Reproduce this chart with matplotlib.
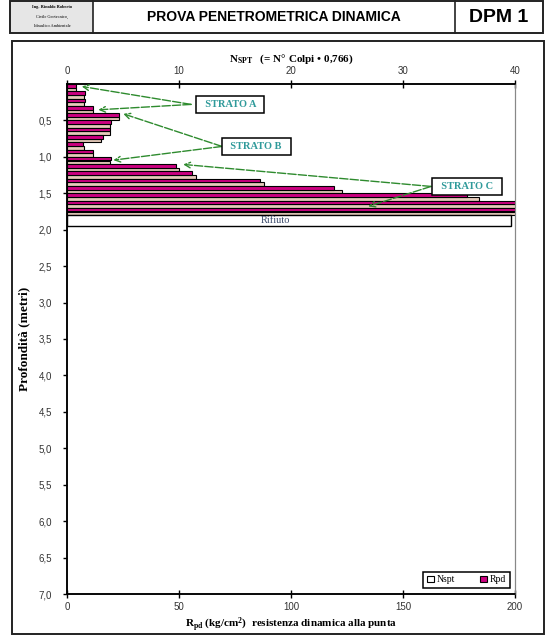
import numpy as np
import matplotlib.pyplot as plt
from matplotlib.patches import Rectangle, Patch

plt.rcParams['font.family'] = ['Liberation Sans', 'DejaVu Sans']
plt.rcParams['mathtext.fontset'] = 'custom'
plt.rcParams['mathtext.rm'] = 'Liberation Serif:bold'
plt.rcParams['mathtext.bf'] = 'Liberation Serif:bold'
plt.rcParams['mathtext.it'] = 'Liberation Serif:italic:bold'

# depth of each 10 cm step (m)
depth = [0.0, 0.1, 0.2, 0.3, 0.4, 0.5, 0.6, 0.7, 0.8, 0.9,
         1.0, 1.1, 1.2, 1.3, 1.4, 1.5, 1.6, 1.7]
# N_SPT (= N colpi * 0,766)
nspt = [0.77, 1.53, 1.53, 2.30, 4.60, 3.83, 3.83, 3.06, 1.53, 2.30,
        3.83, 9.96, 11.49, 17.62, 24.51, 36.77, 45.96, 45.96]
# Rpd (kg/cm2)
rpd = [3.9, 8.2, 7.9, 11.7, 23.4, 19.6, 19.4, 16.2, 7.3, 11.6,
       19.5, 48.5, 55.7, 86.0, 119.0, 178.4, 221.0, 219.0]
# refusal layer
rifiuto_top = 1.8
rifiuto_bot = 1.95
rifiuto_len = 198

strati = ['STRATO A', 'STRATO B', 'STRATO C']

c_rpd = '#cc0080'
c_n = '#e6cbbb'
c_green = '#2e8b2e'
c_txt = '#2f9a9a'
serif = ['Liberation Serif', 'DejaVu Serif']

fig = plt.figure(figsize=(5.56, 6.37), dpi=100)

# page frame and header (pixel coords)
bg = fig.add_axes([0, 0, 1, 1])
bg.set_xlim(0, 556)
bg.set_ylim(637, 0)
bg.axis('off')
bg.add_patch(Rectangle((10, 1), 533, 32, fill=False, lw=1.4, ec='#222222'))
bg.add_patch(Rectangle((11, 2), 82, 30, fc='#e6e6e6', ec='none'))
bg.plot([93, 93], [1, 33], color='#222222', lw=1.2)
bg.plot([455, 455], [1, 33], color='#222222', lw=1.2)
bg.text(52, 7, 'Ing. Rinaldo Roberto', fontsize=3.2, ha='center', va='center',
        family=serif, fontweight='bold')
bg.text(52, 17, 'Civile Geotecnico,', fontsize=3.2, ha='center', va='center', family=serif)
bg.text(52, 26, 'Idraulico Ambientale', fontsize=3.2, ha='center', va='center', family=serif)
bg.text(274, 17, 'PROVA PENETROMETRICA DINAMICA', fontsize=10, fontweight='bold',
        ha='center', va='center')
bg.text(499, 17, 'DPM 1', fontsize=14, fontweight='bold', ha='center', va='center')
bg.add_patch(Rectangle((12, 41), 532, 593, fill=False, lw=1.4, ec='#222222'))

# main chart
ax = fig.add_axes([67/556, 1-594/637, 448/556, 510/637])
ax2 = ax.twiny()
ax.set_zorder(ax2.get_zorder() + 1)
ax.patch.set_visible(False)

d = np.array(depth)
ax.barh(d + 0.025, rpd, height=0.05, color=c_rpd, edgecolor='black', lw=0.8)
ax2.barh(d + 0.075, nspt, height=0.05, color=c_n, edgecolor='black', lw=0.8)
ax.barh((rifiuto_top + rifiuto_bot) / 2, rifiuto_len, height=rifiuto_bot - rifiuto_top,
        color='white', edgecolor='black', lw=1)
ax.text(rifiuto_len * 0.47, (rifiuto_top + rifiuto_bot) / 2, 'Rifiuto', fontsize=7.5,
        family=serif, color='#3b4a6b', ha='center', va='center')

ax.set_xlim(0, 200)
ax2.set_xlim(0, 40)
ax.set_ylim(7, 0)

ax.set_xticks([0, 50, 100, 150, 200])
ax2.set_xticks([0, 10, 20, 30, 40])
yt = np.arange(0.5, 7.01, 0.5)
ax.set_yticks(yt)
ax.set_yticklabels([f'{v:.1f}'.replace('.', ',') for v in yt])
ax.tick_params(axis='x', direction='inout', length=6, width=1, labelsize=7,
               labelcolor='#333333', pad=3)
ax2.tick_params(axis='x', direction='inout', length=6, width=1, labelsize=7,
                labelcolor='#333333', pad=3)
ax.tick_params(axis='y', direction='out', length=3, width=1, labelsize=7,
               labelcolor='#333333', pad=8)
for a in (ax, ax2):
    a.spines['right'].set_color('#888888')
    a.spines['right'].set_linewidth(0.8)
    for s in ('top', 'bottom', 'left'):
        a.spines[s].set_linewidth(1.1)

ax.set_xlabel(r'R$\mathrm{_{pd}}$ (kg/cm$\mathrm{^{2}}$)  resistenza dinamica alla punta',
              fontsize=8, family=serif, fontweight='bold', labelpad=2)
ax2.set_xlabel(r'N$\mathrm{_{SPT}}$   (= N° Colpi • 0,766)', fontsize=8, family=serif,
               fontweight='bold', labelpad=3)
ax.set_ylabel('Profondità (metri)', fontsize=9.5, family=serif, fontweight='bold',
              labelpad=6)

# strata annotations (Rpd / depth coordinates)
boxes = [(72.8, 0.28), (84.4, 0.857), (178.6, 1.406)]
starts = [(55.4, 0.28), (69.2, 0.857), (162.5, 1.406)]
tips = [[(6.6, 0.034), (14.0, 0.354)],
        [(25.1, 0.409), (20.7, 1.045)],
        [(51.9, 1.104), (134.5, 1.68)]]
for name, b, s, tp in zip(strati, boxes, starts, tips):
    for t in tp:
        ax.annotate('', xy=t, xytext=s,
                    arrowprops=dict(arrowstyle='->', color=c_green, lw=1,
                                    linestyle=(0, (6, 1.5)), shrinkA=0, shrinkB=0))
    ax.text(b[0], b[1], '  ' + name + '  ', fontsize=7.5, family=serif, color=c_txt,
            fontweight='bold', ha='center', va='center',
            bbox=dict(boxstyle='square,pad=0.35', fc='white', ec='black', lw=1.1))

handles = [Patch(fc='white', ec='black', lw=0.8, label='Nspt'),
           Patch(fc=c_rpd, ec='black', lw=0.8, label='Rpd')]
leg = ax.legend(handles=handles, loc='lower right', bbox_to_anchor=(0.988, 0.012),
                ncol=2, fancybox=False, edgecolor='black', framealpha=1,
                prop={'family': serif, 'size': 7}, handlelength=0.7,
                handleheight=0.7, handletextpad=0.3, columnspacing=2.6,
                borderpad=0.35, borderaxespad=0)
leg.get_frame().set_linewidth(1.1)

fig.savefig('out.png', dpi=100)
